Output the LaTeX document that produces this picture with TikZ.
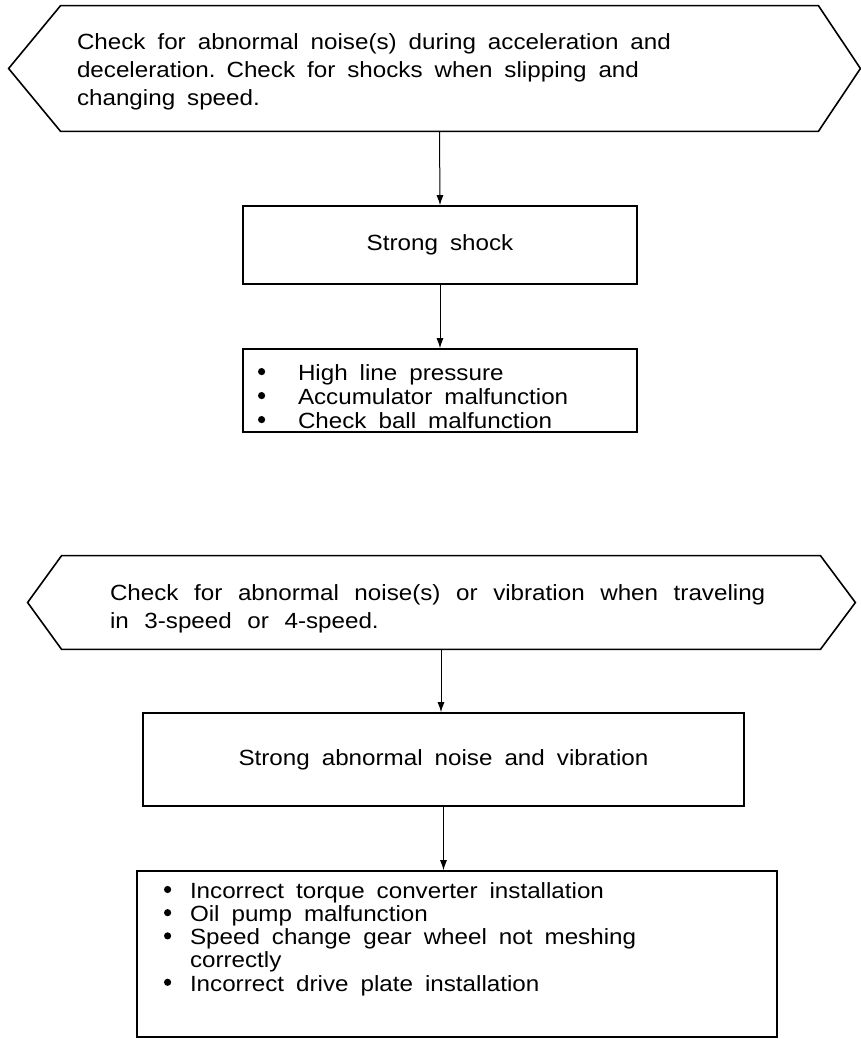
\documentclass[tikz,border=0pt]{standalone}
\usepackage{fontspec}
\setmainfont{Liberation Sans}[FakeStretch=1.1]
\usetikzlibrary{arrows.meta,calc}

\newcommand{\bul}[1]{\makebox[#1][l]{\raisebox{2.6pt}{\tikz\fill (0,0) circle (1.8pt);}}}
\newcommand{\widesp}{\spaceskip=6pt plus 1pt\relax}
\newcommand{\widersp}{\spaceskip=7.8pt plus 1pt\relax}
\newcommand{\chkfont}{\fontsize{11}{14}\selectfont}
\newcommand{\boxfont}{\fontsize{11}{12}\selectfont}
\newcommand{\listfont}{\fontsize{11}{11.6}\selectfont}

\begin{document}
\begin{tikzpicture}[x=0.5pt, y=-0.5pt,
  txt/.style={rectangle, inner sep=0pt, align=left, font=\chkfont, execute at begin node=\widesp},
  box/.style={rectangle, draw, line width=0.8pt, inner sep=0pt, align=left, font=\boxfont, execute at begin node=\widesp},
  edge/.style={line width=0.8pt, line join=miter},
  arr/.style={line width=0.5pt, -{Latex[length=5pt,width=3.5pt]}},
]
  \useasboundingbox (0,0) rectangle (861,1039);

  \node[txt, minimum width=378.5pt, minimum height=62.5pt, text width=362.5pt] (chk1) at (439.5,68.5)
    {\rule{0pt}{11pt}Check for abnormal noise(s) during acceleration and\\deceleration. Check for shocks when slipping and\\changing speed.};
  \draw[edge] (chk1.north west) -- (chk1.north east) -- ([xshift=21pt]chk1.east) -- (chk1.south east)
    -- (chk1.south west) -- ([xshift=-26pt]chk1.west) -- cycle;

  \node[box, minimum width=197pt, minimum height=39pt, align=center] (shock) at (440,245) {Strong shock};
  \node[box, minimum width=197pt, minimum height=41.5pt, text width=182pt] (cause1) at (440,390.5)
    {\rule{0pt}{14pt}\bul{20pt}High line pressure\\\bul{20pt}Accumulator malfunction\\\bul{20pt}Check ball malfunction};

  \draw[arr] (chk1.south) -- (shock.north);
  \draw[arr] (shock.south) -- (cause1.north);

  \node[txt, minimum width=379pt, minimum height=46.5pt, text width=331pt, execute at begin node=\widersp] (chk2) at (441,602.5)
    {\rule{0pt}{14pt}Check for abnormal noise(s) or vibration when traveling\\in 3-speed or 4-speed.};
  \draw[edge] (chk2.north west) -- (chk2.north east) -- ([xshift=17.5pt]chk2.east) -- (chk2.south east)
    -- (chk2.south west) -- ([xshift=-17pt]chk2.west) -- cycle;

  \node[box, minimum width=300.5pt, minimum height=46.5pt, align=center] (noise) at (443.5,759.5)
    {Strong abnormal noise and vibration};
  \node[box, minimum width=320pt, minimum height=83pt, text width=293pt, font=\listfont] (cause2) at (457,954)
    {\bul{13pt}Incorrect torque converter installation\\\bul{13pt}Oil pump malfunction\\
     \bul{13pt}Speed change gear wheel not meshing\\\hspace*{13pt}correctly\\
     \bul{13pt}Incorrect drive plate installation\rule[-17.3pt]{0pt}{17.3pt}};

  \draw[arr] (chk2.south) -- (chk2.south |- noise.north);
  \draw[arr] (noise.south) -- (noise.south |- cause2.north);
\end{tikzpicture}
\end{document}
